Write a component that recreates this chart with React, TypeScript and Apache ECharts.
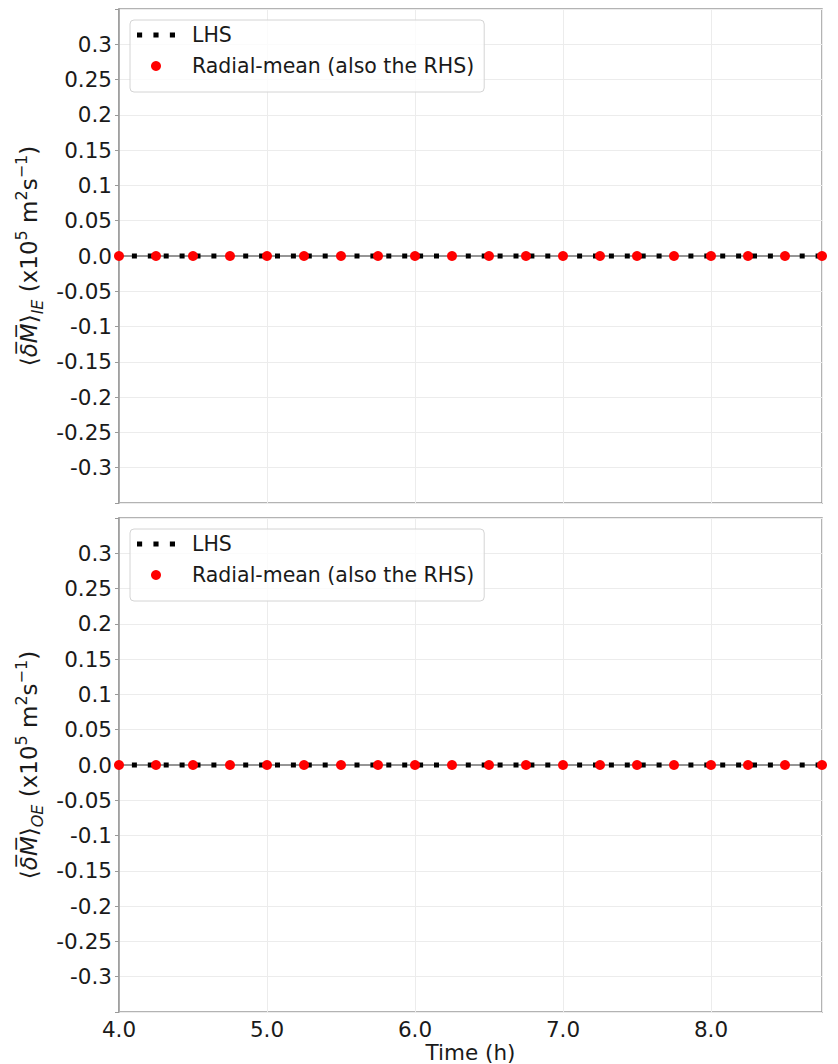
import { useEffect, useRef } from 'react';
import * as echarts from 'echarts';

// Time axis (hours) and the two momentum-budget terms for each panel
const timeHours = [4.0, 4.25, 4.5, 4.75, 5.0, 5.25, 5.5, 5.75, 6.0, 6.25, 6.5, 6.75, 7.0, 7.25, 7.5, 7.75, 8.0, 8.25, 8.5, 8.75];
const lhsIE = [0, 0, 0, 0, 0, 0, 0, 0, 0, 0, 0, 0, 0, 0, 0, 0, 0, 0, 0, 0];
const radialIE = [0, 0, 0, 0, 0, 0, 0, 0, 0, 0, 0, 0, 0, 0, 0, 0, 0, 0, 0, 0];
const lhsOE = [0, 0, 0, 0, 0, 0, 0, 0, 0, 0, 0, 0, 0, 0, 0, 0, 0, 0, 0, 0];
const radialOE = [0, 0, 0, 0, 0, 0, 0, 0, 0, 0, 0, 0, 0, 0, 0, 0, 0, 0, 0, 0];

const seriesNames = ['LHS', 'Radial-mean (also the RHS)'];
const panelSubscripts = ['IE', 'OE'];
const xMin = 4;
const xMax = 8.75;
const xStep = 1;
const yLimit = 0.35;
const yStep = 0.05;

const FONT = 'DejaVu Sans';
const TEXT = '#1a1a1a';
const SPINE = '#9a9a9a';
const GRIDLINE = '#ececec';

const panels = [
  { lhs: lhsIE, radial: radialIE, sub: panelSubscripts[0], top: 9 },
  { lhs: lhsOE, radial: radialOE, sub: panelSubscripts[1], top: 518 },
];

function fmtY(v: number): string {
  if (Math.abs(Math.abs(v) - yLimit) < 1e-9) return '';
  let s = parseFloat(v.toFixed(2)).toString();
  if (s === '-0') s = '0';
  if (s.indexOf('.') < 0) s += '.0';
  return s;
}

function fmtX(v: number): string {
  return Math.abs(v - Math.round(v)) < 1e-9 ? v.toFixed(1) : '';
}

const nameRich = {
  b: { fontFamily: FONT, fontSize: 23, color: TEXT, lineHeight: 32 },
  i: { fontFamily: FONT, fontSize: 23, color: TEXT, lineHeight: 32, fontStyle: 'italic' },
  s: { fontFamily: FONT, fontSize: 16, color: TEXT, lineHeight: 17, fontStyle: 'italic', verticalAlign: 'bottom' },
  p: { fontFamily: FONT, fontSize: 16, color: TEXT, lineHeight: 11, verticalAlign: 'top' },
};

function buildOption() {
  const grid = panels.map((p) => ({
    left: 119,
    top: p.top,
    width: 703,
    height: 494,
    show: true,
    borderColor: SPINE,
    borderWidth: 1.5,
    backgroundColor: 'transparent',
  }));

  const xAxis = panels.map((_, i) => ({
    type: 'value',
    gridIndex: i,
    min: xMin,
    max: xMax,
    interval: xStep,
    axisLine: { show: true, lineStyle: { color: SPINE, width: 1.5 } },
    axisTick: { show: true, length: 4, lineStyle: { color: SPINE } },
    splitLine: { show: true, lineStyle: { color: GRIDLINE, width: 1 } },
    axisLabel: {
      show: i === 1,
      formatter: fmtX,
      fontFamily: FONT,
      fontSize: 21.5,
      color: TEXT,
      margin: 6,
      showMaxLabel: false,
    },
    name: i === 1 ? 'Time (h)' : '',
    nameLocation: 'middle',
    nameGap: 29,
    nameTextStyle: { fontFamily: FONT, fontSize: 21.5, color: TEXT },
  }));

  const yAxis = panels.map((p, i) => ({
    type: 'value',
    gridIndex: i,
    min: -yLimit,
    max: yLimit,
    interval: yStep,
    axisLine: { show: true, lineStyle: { color: SPINE, width: 1.5 } },
    axisTick: { show: true, length: 4, lineStyle: { color: SPINE } },
    splitLine: { show: true, lineStyle: { color: GRIDLINE, width: 1 } },
    axisLabel: {
      formatter: fmtY,
      fontFamily: FONT,
      fontSize: 21.5,
      color: TEXT,
      margin: 7,
    },
    name: `{b|⟨}{i|δ̅M̅}{b|⟩}{s|${p.sub}}{b| (x10}{p|5}{b| m}{p|2}{b|s}{p|−1}{b|)}`,
    nameLocation: 'middle',
    nameRotate: 90,
    nameGap: 61,
    nameTextStyle: { fontFamily: FONT, fontSize: 23, color: TEXT, lineHeight: 32, rich: nameRich },
  }));

  const series: any[] = [];
  panels.forEach((p, i) => {
    series.push({
      name: seriesNames[0],
      type: 'line',
      xAxisIndex: i,
      yAxisIndex: i,
      data: timeHours.map((t, k) => [t, p.lhs[k]]),
      symbol: 'none',
      z: 3,
      itemStyle: { color: '#000000' },
      lineStyle: { color: '#000000', width: 5, type: [5, 10.9], dashOffset: 2.5, cap: 'butt' },
      markLine: {
        silent: true,
        z: 2,
        symbol: 'none',
        label: { show: false },
        lineStyle: { color: '#8c8c8c', width: 1.5, type: 'solid' },
        data: [{ yAxis: 0 }],
      },
    });
    series.push({
      name: seriesNames[1],
      type: 'scatter',
      xAxisIndex: i,
      yAxisIndex: i,
      data: timeHours.map((t, k) => [t, p.radial[k]]),
      symbol: 'circle',
      symbolSize: 10,
      z: 4,
      itemStyle: { color: '#ff0000', borderWidth: 0, opacity: 1 },
    });
  });

  const legend = panels.map((p) => ({
    left: 130,
    top: p.top + 11,
    orient: 'vertical',
    selectedMode: false,
    padding: [4, 10, 15, 7],
    itemGap: 9,
    itemWidth: 38,
    itemHeight: 10,
    borderColor: '#d4d4d4',
    borderWidth: 1,
    borderRadius: 4,
    backgroundColor: 'rgba(255,255,255,0.8)',
    itemStyle: { borderWidth: 0 },
    textStyle: { fontFamily: FONT, fontSize: 20.5, color: TEXT, lineHeight: 22, padding: [0, 0, 0, 12] },
    data: [
      { name: seriesNames[0], icon: 'path://M0,0h5v5h-5zM16,0h5v5h-5zM32,0h5v5h-5z' },
      { name: seriesNames[1], icon: 'circle' },
    ],
  }));

  return {
    animation: false,
    backgroundColor: '#ffffff',
    grid,
    xAxis,
    yAxis,
    legend,
    series,
  };
}

export default function App() {
  const ref = useRef<HTMLDivElement>(null);

  useEffect(() => {
    if (!ref.current) return;
    const chart = echarts.init(ref.current, undefined, { renderer: 'svg' });
    chart.setOption(buildOption() as any);
    return () => chart.dispose();
  }, []);

  return (
    <div
      ref={ref}
      style={{ position: 'fixed', left: 0, top: 0, width: 838, height: 1064, background: '#ffffff' }}
    />
  );
}
